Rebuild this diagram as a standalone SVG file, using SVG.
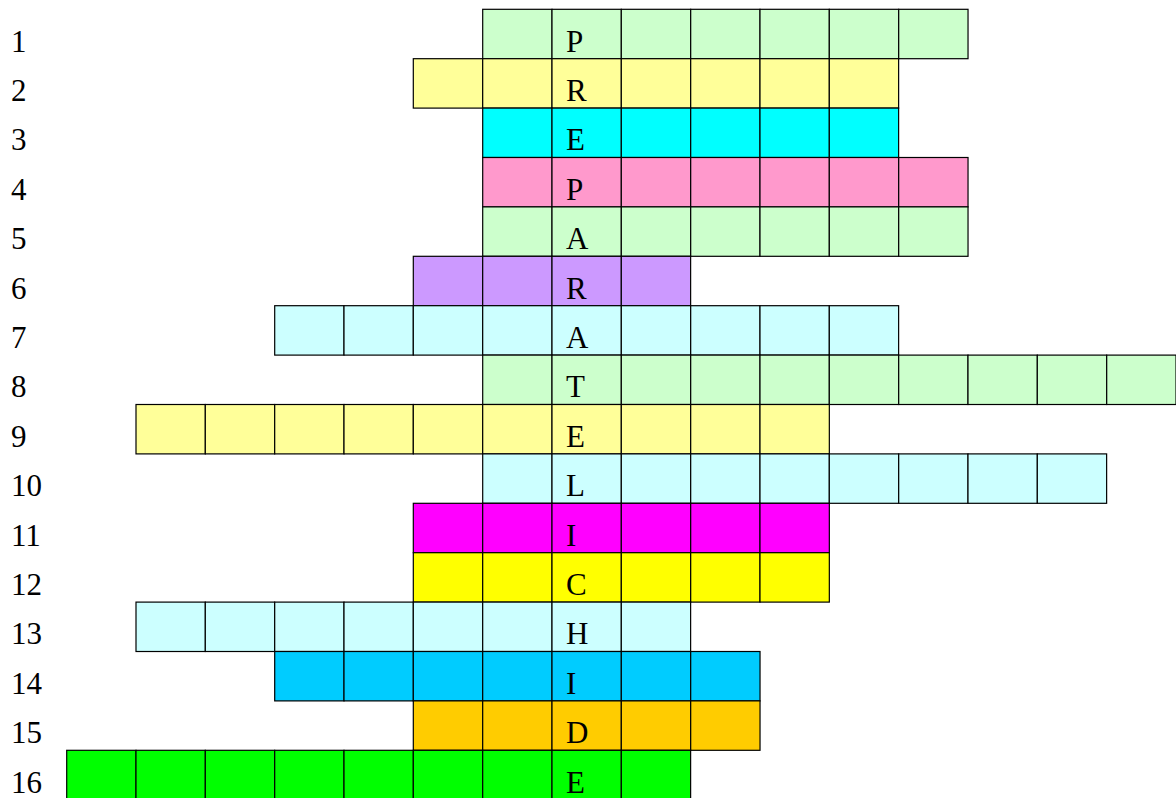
<svg xmlns="http://www.w3.org/2000/svg" width="1176" height="798" viewBox="0 0 1176 798">
<style>
.c{stroke:#000;stroke-width:1.2}
.t{font-family:"Liberation Serif","Times New Roman",serif;font-size:31px;fill:#000}
.g{fill:#CCFFCC}.y{fill:#FFFF99}.cy{fill:#00FFFF}.pk{fill:#FF99CC}.pu{fill:#CC99FF}.lc{fill:#CCFFFF}
.mg{fill:#FF00FF}.ye{fill:#FFFF00}.sb{fill:#00CCFF}.or{fill:#FFCC00}.gr{fill:#00FF00}
</style>
<defs>
<rect id="cell" width="69.33" height="49.4"/>
</defs>
<rect width="1176" height="798" fill="#fff"/>
<g id="labels">
<text class="t" x="11" y="51.5">1</text>
<text class="t" x="11" y="100.9">2</text>
<text class="t" x="11" y="150.3">3</text>
<text class="t" x="11" y="199.7">4</text>
<text class="t" x="11" y="249.1">5</text>
<text class="t" x="11" y="298.5">6</text>
<text class="t" x="11" y="347.9">7</text>
<text class="t" x="11" y="397.3">8</text>
<text class="t" x="11" y="446.7">9</text>
<text class="t" x="11" y="496.1">10</text>
<text class="t" x="11" y="545.5">11</text>
<text class="t" x="11" y="594.9">12</text>
<text class="t" x="11" y="644.3">13</text>
<text class="t" x="11" y="693.7">14</text>
<text class="t" x="11" y="743.1">15</text>
<text class="t" x="11" y="792.5">16</text>
</g>
<g id="row1" class="g c" transform="translate(0,9.3)">
<use href="#cell" x="482.7"/><use href="#cell" x="552"/><use href="#cell" x="621.3"/><use href="#cell" x="690.7"/><use href="#cell" x="760"/><use href="#cell" x="829.3"/><use href="#cell" x="898.7"/>
</g>
<g id="row2" class="y c" transform="translate(0,58.7)">
<use href="#cell" x="413.3"/><use href="#cell" x="482.7"/><use href="#cell" x="552"/><use href="#cell" x="621.3"/><use href="#cell" x="690.7"/><use href="#cell" x="760"/><use href="#cell" x="829.3"/>
</g>
<g id="row3" class="cy c" transform="translate(0,108.1)">
<use href="#cell" x="482.7"/><use href="#cell" x="552"/><use href="#cell" x="621.3"/><use href="#cell" x="690.7"/><use href="#cell" x="760"/><use href="#cell" x="829.3"/>
</g>
<g id="row4" class="pk c" transform="translate(0,157.5)">
<use href="#cell" x="482.7"/><use href="#cell" x="552"/><use href="#cell" x="621.3"/><use href="#cell" x="690.7"/><use href="#cell" x="760"/><use href="#cell" x="829.3"/><use href="#cell" x="898.7"/>
</g>
<g id="row5" class="g c" transform="translate(0,206.9)">
<use href="#cell" x="482.7"/><use href="#cell" x="552"/><use href="#cell" x="621.3"/><use href="#cell" x="690.7"/><use href="#cell" x="760"/><use href="#cell" x="829.3"/><use href="#cell" x="898.7"/>
</g>
<g id="row6" class="pu c" transform="translate(0,256.3)">
<use href="#cell" x="413.3"/><use href="#cell" x="482.7"/><use href="#cell" x="552"/><use href="#cell" x="621.3"/>
</g>
<g id="row7" class="lc c" transform="translate(0,305.7)">
<use href="#cell" x="274.7"/><use href="#cell" x="344"/><use href="#cell" x="413.3"/><use href="#cell" x="482.7"/><use href="#cell" x="552"/><use href="#cell" x="621.3"/><use href="#cell" x="690.7"/><use href="#cell" x="760"/><use href="#cell" x="829.3"/>
</g>
<g id="row8" class="g c" transform="translate(0,355.1)">
<use href="#cell" x="482.7"/><use href="#cell" x="552"/><use href="#cell" x="621.3"/><use href="#cell" x="690.7"/><use href="#cell" x="760"/><use href="#cell" x="829.3"/><use href="#cell" x="898.7"/><use href="#cell" x="968"/><use href="#cell" x="1037.3"/><use href="#cell" x="1106.7"/>
</g>
<g id="row9" class="y c" transform="translate(0,404.5)">
<use href="#cell" x="136"/><use href="#cell" x="205.3"/><use href="#cell" x="274.7"/><use href="#cell" x="344"/><use href="#cell" x="413.3"/><use href="#cell" x="482.7"/><use href="#cell" x="552"/><use href="#cell" x="621.3"/><use href="#cell" x="690.7"/><use href="#cell" x="760"/>
</g>
<g id="row10" class="lc c" transform="translate(0,453.9)">
<use href="#cell" x="482.7"/><use href="#cell" x="552"/><use href="#cell" x="621.3"/><use href="#cell" x="690.7"/><use href="#cell" x="760"/><use href="#cell" x="829.3"/><use href="#cell" x="898.7"/><use href="#cell" x="968"/><use href="#cell" x="1037.3"/>
</g>
<g id="row11" class="mg c" transform="translate(0,503.3)">
<use href="#cell" x="413.3"/><use href="#cell" x="482.7"/><use href="#cell" x="552"/><use href="#cell" x="621.3"/><use href="#cell" x="690.7"/><use href="#cell" x="760"/>
</g>
<g id="row12" class="ye c" transform="translate(0,552.7)">
<use href="#cell" x="413.3"/><use href="#cell" x="482.7"/><use href="#cell" x="552"/><use href="#cell" x="621.3"/><use href="#cell" x="690.7"/><use href="#cell" x="760"/>
</g>
<g id="row13" class="lc c" transform="translate(0,602.1)">
<use href="#cell" x="136"/><use href="#cell" x="205.3"/><use href="#cell" x="274.7"/><use href="#cell" x="344"/><use href="#cell" x="413.3"/><use href="#cell" x="482.7"/><use href="#cell" x="552"/><use href="#cell" x="621.3"/>
</g>
<g id="row14" class="sb c" transform="translate(0,651.5)">
<use href="#cell" x="274.7"/><use href="#cell" x="344"/><use href="#cell" x="413.3"/><use href="#cell" x="482.7"/><use href="#cell" x="552"/><use href="#cell" x="621.3"/><use href="#cell" x="690.7"/>
</g>
<g id="row15" class="or c" transform="translate(0,700.9)">
<use href="#cell" x="413.3"/><use href="#cell" x="482.7"/><use href="#cell" x="552"/><use href="#cell" x="621.3"/><use href="#cell" x="690.7"/>
</g>
<g id="row16" class="gr c" transform="translate(0,750.3)">
<use href="#cell" x="66.7"/><use href="#cell" x="136"/><use href="#cell" x="205.3"/><use href="#cell" x="274.7"/><use href="#cell" x="344"/><use href="#cell" x="413.3"/><use href="#cell" x="482.7"/><use href="#cell" x="552"/><use href="#cell" x="621.3"/>
</g>
<g id="letters">
<text class="t" x="566" y="51.5">P</text>
<text class="t" x="566" y="100.9">R</text>
<text class="t" x="566" y="150.3">E</text>
<text class="t" x="566" y="199.7">P</text>
<text class="t" x="566" y="249.1">A</text>
<text class="t" x="566" y="298.5">R</text>
<text class="t" x="566" y="347.9">A</text>
<text class="t" x="566" y="397.3">T</text>
<text class="t" x="566" y="446.7">E</text>
<text class="t" x="566" y="496.1">L</text>
<text class="t" x="566" y="545.5">I</text>
<text class="t" x="566" y="594.9">C</text>
<text class="t" x="566" y="644.3">H</text>
<text class="t" x="566" y="693.7">I</text>
<text class="t" x="566" y="743.1">D</text>
<text class="t" x="566" y="792.5">E</text>
</g>
</svg>
